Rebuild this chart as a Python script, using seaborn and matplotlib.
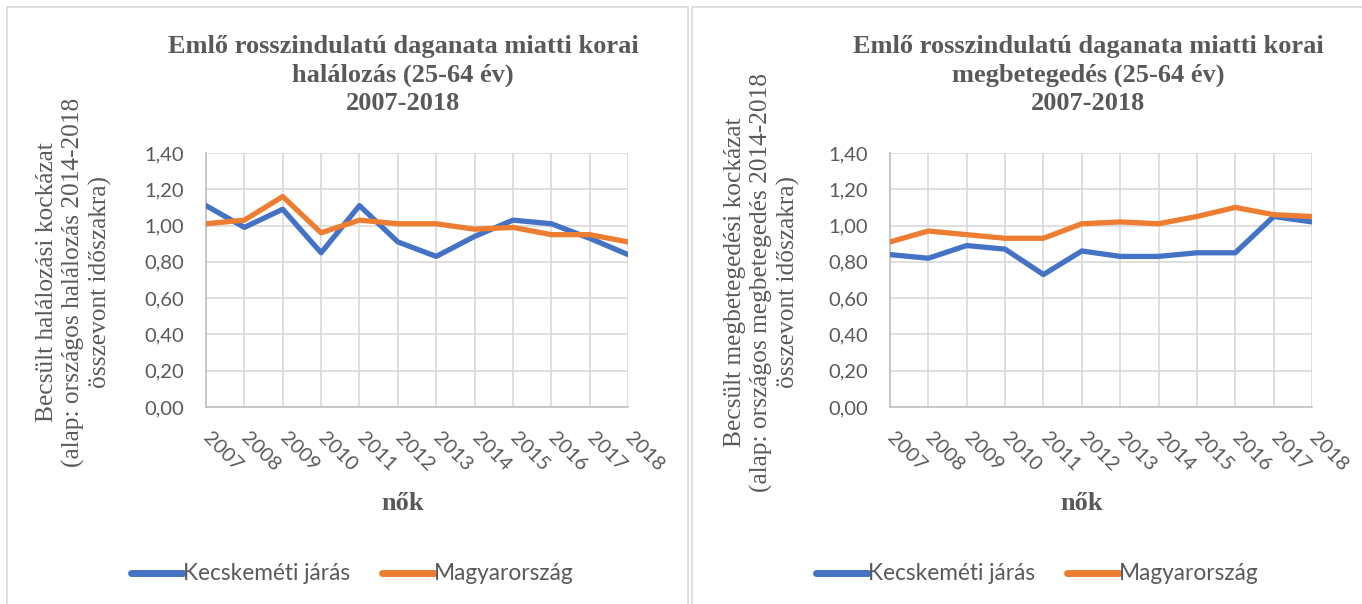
import matplotlib
matplotlib.use("Agg")
import matplotlib.pyplot as plt
import seaborn as sns
import pandas as pd
from matplotlib.patches import Rectangle
from matplotlib.lines import Line2D
from matplotlib.ticker import FuncFormatter

years = list(range(2007, 2019))
series_names = ["Kecskeméti járás", "Magyarország"]

# Left chart: mortality
hal_kecskemet = [1.11, 0.99, 1.09, 0.85, 1.11, 0.91, 0.83, 0.94, 1.03, 1.01, 0.93, 0.84]
hal_magyar = [1.01, 1.03, 1.16, 0.96, 1.03, 1.01, 1.01, 0.98, 0.99, 0.95, 0.95, 0.91]

# Right chart: incidence
beteg_kecskemet = [0.84, 0.82, 0.89, 0.87, 0.73, 0.86, 0.83, 0.83, 0.85, 0.85, 1.05, 1.02]
beteg_magyar = [0.91, 0.97, 0.95, 0.93, 0.93, 1.01, 1.02, 1.01, 1.05, 1.10, 1.06, 1.05]

titles = [
    "Emlő rosszindulatú daganata miatti korai\nhalálozás (25-64 év)\n2007-2018",
    "Emlő rosszindulatú daganata miatti korai\nmegbetegedés (25-64 év)\n2007-2018",
]
ylabels = [
    "Becsült halálozási kockázat\n(alap: országos halálozás 2014-2018\nösszevont időszakra)",
    "Becsült megbetegedési kockázat\n(alap: országos megbetegedés 2014-2018\nösszevont időszakra)",
]
xlabel = "nők"
yticks = [0.0, 0.2, 0.4, 0.6, 0.8, 1.0, 1.2, 1.4]

colors = {"Kecskeméti járás": "#4472C4", "Magyarország": "#ED7D31"}
GRAY = "#595959"

sns.set_theme(style="white")
plt.rcParams['font.family'] = ['Lato', 'DejaVu Sans']

W, H = 1362, 604
fig = plt.figure(figsize=(W / 100, H / 100), dpi=100)


def fx(x):
    return x / W


def fy(y):
    return 1 - y / H


# Panel borders
for (x0, x1) in [(7, 688), (692, 1370)]:
    fig.patches.append(Rectangle((fx(x0), fy(615)), fx(x1 - x0), (615 - 7) / H,
                                 transform=fig.transFigure, fill=False,
                                 edgecolor="#D9D9D9", lw=1.2))

datasets = [(hal_kecskemet, hal_magyar), (beteg_kecskemet, beteg_magyar)]
ax_px = [(206, 628), (890, 1312)]
title_cx = [403, 1088]
ylabel_cx = [74, 762]
nok_cx = [403, 1082]
legend_cx = [352, 1037]

for i in range(2):
    a, b = datasets[i]
    df = pd.DataFrame({
        "year": years * 2,
        "value": a + b,
        "series": [series_names[0]] * len(years) + [series_names[1]] * len(years),
    })
    x0, x1 = ax_px[i]
    ax = fig.add_axes([fx(x0), fy(407), fx(x1 - x0), (407 - 153) / H])
    sns.lineplot(data=df, x="year", y="value", hue="series", palette=colors,
                 linewidth=3.8, ax=ax, legend=False, zorder=3)
    ax.set_xlim(2007, 2018)
    ax.set_ylim(0, 1.4)
    ax.set_xticks(years)
    ax.set_yticks(yticks)
    ax.yaxis.set_major_formatter(FuncFormatter(lambda v, p: f"{v:.2f}".replace(".", ",")))
    ax.grid(True, color="#D9D9D9", lw=1.2)
    ax.set_axisbelow(True)
    for s in ["top", "right"]:
        ax.spines[s].set_visible(False)
    for s in ["left", "bottom"]:
        ax.spines[s].set_color("#BFBFBF")
        ax.spines[s].set_linewidth(1.2)
    ax.set_xlabel("")
    ax.set_ylabel("")
    ax.tick_params(axis="both", length=0, colors=GRAY, labelsize=14.5)
    ax.tick_params(axis="y", pad=16)
    for lab in ax.get_xticklabels():
        lab.set_rotation(-45)
        lab.set_ha("left")
        lab.set_va("center")
        lab.set_rotation_mode("anchor")
    ax.tick_params(axis="x", pad=20)

    fig.text(fx(title_cx[i]), fy(75), titles[i], ha="center", va="center",
             family="Liberation Serif", fontweight="bold", fontsize=19,
             color=GRAY, linespacing=1.3)
    fig.text(fx(ylabel_cx[i]), fy(282), ylabels[i], ha="center", va="center",
             rotation=90, family="Liberation Serif", fontsize=18.3,
             color=GRAY, linespacing=1.2, multialignment="center")
    fig.text(fx(nok_cx[i]), fy(503), xlabel, ha="center", va="center",
             family="Liberation Serif", fontweight="bold", fontsize=19, color=GRAY)

    handles = [Line2D([], [], color=colors[n], lw=5, solid_capstyle="round") for n in series_names]
    leg = fig.legend(handles, series_names, loc="center",
                     bbox_to_anchor=(fx(legend_cx[i]), fy(574)), ncol=2,
                     frameon=False, fontsize=16.3, handlelength=2.3,
                     handletextpad=0.0, columnspacing=1.4)
    for t in leg.get_texts():
        t.set_color(GRAY)

fig.savefig("out.png", dpi=100)
